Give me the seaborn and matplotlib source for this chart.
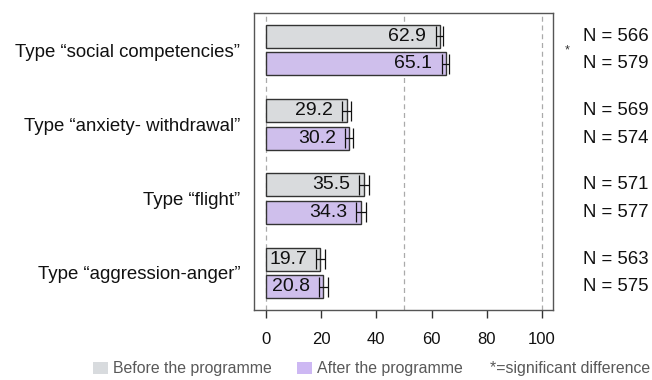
import matplotlib
matplotlib.use("Agg")
import matplotlib.pyplot as plt
from matplotlib.patches import Patch
import seaborn as sns
import pandas as pd

# Survey results per behaviour type, before and after the programme
categories = [
    "Type \u201csocial competencies\u201d",
    "Type \u201canxiety- withdrawal\u201d",
    "Type \u201cflight\u201d",
    "Type \u201caggression-anger\u201d",
]
periods = ["Before the programme", "After the programme"]
before = [62.9, 29.2, 35.5, 19.7]
after = [65.1, 30.2, 34.3, 20.8]
before_err = [1.2, 1.5, 1.8, 1.7]
after_err = [1.2, 1.5, 1.8, 1.7]
n_before = [566, 569, 571, 563]
n_after = [579, 574, 577, 575]
significant = [True, False, False, False]
x_ticks = [0, 20, 40, 60, 80, 100]

colors = {"Before the programme": "#D8DBDE", "After the programme": "#CDB8F3"}

df = pd.DataFrame({
    "category": categories * 2,
    "period": [periods[0]] * 4 + [periods[1]] * 4,
    "value": before + after,
    "err": before_err + after_err,
    "n": n_before + n_after,
})

sns.set_theme(style="white")
plt.rcParams["font.family"] = ["Liberation Sans", "DejaVu Sans"]

fig = plt.figure(figsize=(6.52, 3.80), dpi=100)
ax = fig.add_axes([0.3896, 0.1842, 0.4586, 0.7816])

sns.barplot(
    data=df, y="category", x="value", hue="period",
    order=categories, hue_order=periods, palette=colors,
    orient="h", width=0.74, gap=0.16, errorbar=None,
    edgecolor="#333333", linewidth=1.0, legend=False, ax=ax,
)

# error bars, value labels and sample sizes from the drawn bars
for container, period in zip(ax.containers, periods):
    sub = df[df["period"] == period].set_index("category").loc[categories]
    for bar, (_, row) in zip(container, sub.iterrows()):
        yc = bar.get_y() + bar.get_height() / 2
        ax.errorbar(row["value"], yc, xerr=row["err"], fmt="none",
                    ecolor="#111111", elinewidth=0.9, capsize=7, capthick=0.9,
                    zorder=4)
        ax.annotate(f"{row['value']:.1f}", xy=(row["value"], yc),
                    xytext=(-9.5, 0), textcoords="offset points",
                    ha="right", va="center", fontsize=14, color="#111111",
                    zorder=5)
        ax.text(1.1, yc, f"N = {row['n']}", transform=ax.get_yaxis_transform(),
                ha="left", va="center", fontsize=13.4, color="#111111",
                clip_on=False)

# significance markers between the two N labels
for i, sig in enumerate(significant):
    if sig:
        ax.text(1.047, i, "*", transform=ax.get_yaxis_transform(),
                ha="center", va="center", fontsize=9, color="#333333",
                clip_on=False)

ax.set_xlim(-4.3, 104.0)
ax.set_ylim(3.5, -0.5)
ax.set_xticks(x_ticks)
ax.set_xticklabels([str(t) for t in x_ticks], fontsize=12, color="#111111")
for xv in (0, 50, 100):
    ax.axvline(xv, color="#AAAAAA", linestyle=(0, (4, 3)), linewidth=0.9, zorder=0)

ax.set_xlabel("")
ax.set_ylabel("")
ax.tick_params(axis="y", length=0, pad=10, labelsize=13.4, labelcolor="#111111")
ax.tick_params(axis="x", bottom=True, length=5.5, width=1, color="#333333",
               direction="out", pad=10)
for sp in ax.spines.values():
    sp.set_visible(True)
    sp.set_color("#555555")
    sp.set_linewidth(1.0)

handles = [Patch(facecolor=colors[p], edgecolor="none", label=p) for p in periods]
fig.legend(handles=handles, loc="center left", bbox_to_anchor=(93 / 652, 1 - 369 / 380),
           ncol=2, frameon=False, fontsize=11.4, handlelength=0.95, handleheight=0.76,
           handletextpad=0.3, columnspacing=1.6, labelcolor="#595959",
           borderpad=0, borderaxespad=0)
fig.text(490 / 652, 1 - 369 / 380, "*=significant difference", ha="left",
         va="center", fontsize=11.4, color="#595959")

fig.savefig("out.png", dpi=100)
